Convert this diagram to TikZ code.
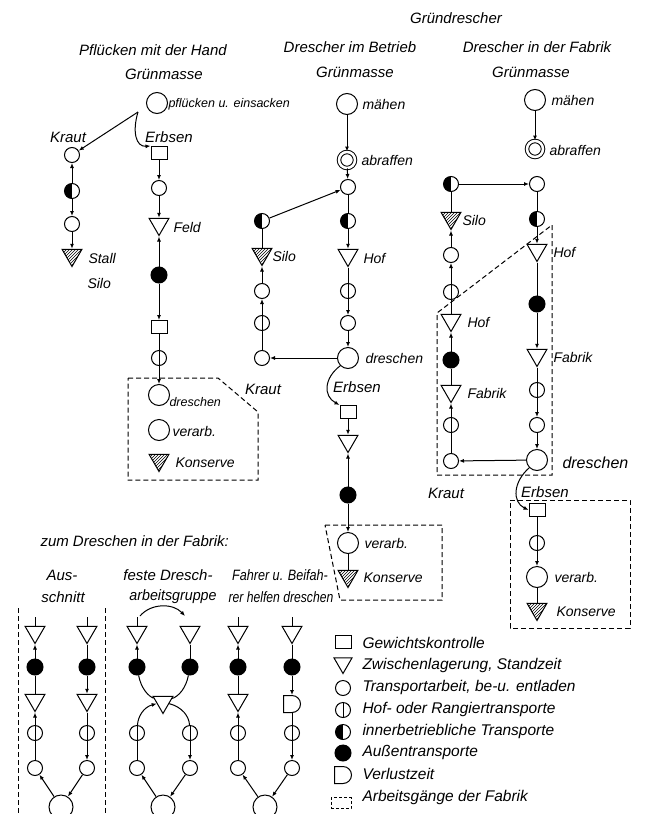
\documentclass[tikz,border=0pt]{standalone}
\usepackage{fontspec}
\usepackage{graphicx}
\setmainfont{Liberation Sans}
\usetikzlibrary{arrows.meta,shapes.geometric,shapes.misc,patterns}
\begin{document}
\begin{tikzpicture}[x=1pt,y=-1pt, line width=1pt, >={Latex[length=5pt,width=4pt]},
 sc/.style={circle,draw,minimum size=15pt,inner sep=0pt},
 bc/.style={circle,draw,minimum size=21pt,inner sep=0pt},
 dc/.style={circle,draw,double,double distance=2.5pt,minimum size=16pt,inner sep=0pt},
 hc/.style={sc,path picture={\fill (path picture bounding box.south west) rectangle (path picture bounding box.north);}},
 barc/.style={sc,path picture={\draw (path picture bounding box.north) -- (path picture bounding box.south);}},
 fc/.style={circle,draw,fill,minimum size=16pt,inner sep=0pt},
 tri/.style={regular polygon,regular polygon sides=3,shape border rotate=180,draw,minimum size=23pt,inner sep=0pt},
 htri/.style={tri,pattern=north east lines},
 sq/.style={rectangle,draw,minimum width=16pt,minimum height=13pt,inner sep=0pt},
 dsh/.style={rounded rectangle,rounded rectangle left arc=none,draw,minimum width=14pt,minimum height=17pt,inner sep=0pt},
 lab/.style={font=\fontsize{14}{16}\selectfont\itshape,inner sep=0pt,anchor=west},
 slab/.style={font=\fontsize{12.5}{14}\selectfont\itshape,inner sep=0pt,anchor=west},
 leg/.style={font=\fontsize{15.5}{17}\selectfont\itshape,inner sep=0pt,anchor=west},
 ttl/.style={font=\fontsize{15}{17}\selectfont\itshape,inner sep=0pt},
 box/.style={dash pattern=on 5pt off 3pt}
]
\fill[white] (0,0) rectangle (646,814);
\useasboundingbox (0,0) rectangle (646,814);

% titles
\node[ttl] (t0) at (456,18) {Gründrescher};
\node[ttl] (t1) at (153,50) {Pflücken mit der Hand};
\node[ttl] (t1b) at (164,74) {Grünmasse};
\node[ttl] (t2) at (350,47) {Drescher im Betrieb};
\node[ttl] (t2b) at (355,72) {Grünmasse};
\node[ttl] (t3) at (537,47) {Drescher in der Fabrik};
\node[ttl] (t3b) at (531,72) {Grünmasse};

% ---------------- Column A
\node[bc] (A0) at (157,103) {};
\node[slab] (A0l) at (168,104) {pflücken u. einsacken};
\coordinate (As) at (138,112);
\node[ttl] (Ak) at (68,137) {Kraut};
\node[ttl] (Ae) at (169,137) {Erbsen};
\node[sc] (K1) at (72,155) {};
\node[hc] (K2) at (72,191) {};
\node[sc] (K3) at (72,224) {};
\node[htri] (K4) at (72,255) {};
\node[lab] (K4l) at (88,258) {Stall};
\node[lab] (K4m) at (87,283) {Silo};
\node[sq] (E1) at (159,153) {};
\node[sc] (E2) at (159,188) {};
\node[tri] (E3) at (159,224) {};
\node[lab] (E3l) at (173,227) {Feld};
\node[fc] (E4) at (159,275) {};
\node[sq] (E5) at (159,327) {};
\node[barc] (E6) at (159,358) {};
\node[bc] (E7) at (159,395) {};
\node[slab] (E7l) at (169,402) {dreschen};
\node[bc] (E8) at (159,430) {};
\node[lab] (E8l) at (172,431) {verarb.};
\node[htri] (E9) at (159,460) {};
\node[lab] (E9l) at (175,463) {Konserve};
\draw[->] (As) -- (K1);
\draw[->] (As) .. controls (132,132) and (136,147) .. (E1.north west);
\draw[->] (K2) -- (K1);
\draw[->] (K2) -- (K3);
\draw[->] (K3) -- (K4);
\draw[->] (E1) -- (E2);
\draw[->] (E2) -- (E3);
\draw[->] (E4) -- (E3);
\draw[->] (E4) -- (E5);
\draw (E5) -- (E6);
\draw[->] (E6) -- (E7);
\draw[box] (128,378) -- (218,378) -- (258,412) -- (258,480) -- (128,480) -- cycle;

% ---------------- Column B
\node[bc] (B0) at (347,104) {};
\node[lab] (B0l) at (362,104) {mähen};
\node[dc] (B1) at (347,160) {};
\node[lab] (B1l) at (361,160) {abraffen};
\node[sc] (B2) at (348,187) {};
\node[hc] (B3) at (348,221) {};
\node[tri] (B4) at (348,255) {};
\node[lab] (B4l) at (363,258) {Hof};
\node[barc] (B5) at (348,291) {};
\node[sc] (B6) at (348,323) {};
\node[bc] (B7) at (348,358) {};
\node[lab] (B7l) at (365,358) {dreschen};
\node[ttl] (Bk) at (263,389) {Kraut};
\node[ttl] (Be) at (357,387) {Erbsen};
\node[sq] (B8) at (348,412) {};
\node[tri] (B9) at (348,441) {};
\node[fc] (B10) at (348,495) {};
\node[bc] (B11) at (348,543) {};
\node[lab] (B11l) at (364,543) {verarb.};
\node[htri] (B12) at (348,576) {};
\node[lab] (B12l) at (363,578) {Konserve};
\node[hc] (L1) at (262,221) {};
\node[htri] (L2) at (262,254) {};
\node[lab] (L2l) at (272,256) {Silo};
\node[sc] (L3) at (262,291) {};
\node[barc] (L4) at (262,323) {};
\node[sc] (L5) at (262,358) {};
\draw[->] (B0) -- (B1);
\draw[->] (B1) -- (B2);
\draw (B2) -- (B3);
\draw[->] (B3) -- (B4);
\draw (B4) -- (B5);
\draw[->] (B5) -- (B6);
\draw[->] (B6) -- (B7);
\draw[->] (B7) -- (L5);
\draw (L5) -- (L4);
\draw[->] (L4) -- (L3);
\draw[->] (L3) -- (L2);
\draw (L2) -- (L1);
\draw[->] (L1) -- (B2);
\draw[->] (B7.south west) .. controls (324,378) and (323,396) .. (B8.north west);
\draw[->] (B8) -- (B9);
\draw[->] (B10) -- (B9);
\draw[->] (B10) -- (B11);
\draw (B11) -- (B12);
\draw[box] (325,525) -- (442,525) -- (442,600) -- (340,600) -- cycle;

% ---------------- Column C
\node[bc] (C0) at (535,100) {};
\node[lab] (C0l) at (551,100) {mähen};
\node[dc] (C1) at (535,149) {};
\node[lab] (C1l) at (549,150) {abraffen};
\node[sc] (C2) at (537,184) {};
\node[hc] (C3) at (537,219) {};
\node[tri] (C4) at (537,250) {};
\node[lab] (C4l) at (553,252) {Hof};
\node[fc] (C5) at (537,304) {};
\node[tri] (C6) at (537,355) {};
\node[lab] (C6l) at (553,357) {Fabrik};
\node[barc] (C7) at (537,390) {};
\node[sc] (C8) at (537,425) {};
\node[bc] (C9) at (537,460) {};
\node[lab, font=\fontsize{16}{18}\selectfont\itshape] (C9l) at (562,463) {dreschen};
\node[hc] (M1) at (451,184) {};
\node[htri] (M2) at (451,218) {};
\node[lab] (M2l) at (462,220) {Silo};
\node[sc] (M3) at (451,255) {};
\node[barc] (M4) at (451,292) {};
\node[tri] (M5) at (451,320) {};
\node[lab] (M5l) at (467,322) {Hof};
\node[fc] (M6) at (451,360) {};
\node[tri] (M7) at (451,391) {};
\node[lab] (M7l) at (467,393) {Fabrik};
\node[barc] (M8) at (451,425) {};
\node[sc] (M9) at (451,461) {};
\node[ttl] (Ck) at (446,493) {Kraut};
\node[ttl] (Ce) at (545,492) {Erbsen};
\node[sq] (C10) at (537,510) {};
\node[barc] (C11) at (537,543) {};
\node[bc] (C12) at (537,577) {};
\node[lab] (C12l) at (554,577) {verarb.};
\node[htri] (C13) at (537,609) {};
\node[lab] (C13l) at (556,612) {Konserve};
\draw[->] (C0) -- (C1);
\draw[->] (M1) -- (C2);
\draw (C2) -- (C3);
\draw[->] (C3) -- (C4);
\draw (C4) -- (C5);
\draw[->] (C5) -- (C6);
\draw (C6) -- (C7);
\draw[->] (C7) -- (C8);
\draw[->] (C8) -- (C9);
\draw[->] (C9) -- (M9);
\draw (M9) -- (M8);
\draw[->] (M8) -- (M7);
\draw (M7) -- (M6);
\draw[->] (M6) -- (M5);
\draw (M5) -- (M4);
\draw[->] (M4) -- (M3);
\draw[->] (M3) -- (M2);
\draw (M2) -- (M1);
\draw[->] (C9.south west) .. controls (513,482) and (512,502) .. (C10.west);
\draw (C10) -- (C11);
\draw[->] (C11) -- (C12);
\draw (C12) -- (C13);
\draw[box] (552,225) -- (552,475) -- (437,475) -- (437,313) -- cycle;
\draw[box] (510,500) -- (630,500) -- (630,628) -- (510,628) -- cycle;

% ---------------- bottom section
\node[ttl, anchor=west] (zt) at (40,541) {zum Dreschen in der Fabrik:};
\node[ttl] (h1a) at (62,575) {Aus-};
\node[ttl] (h1b) at (63,597) {schnitt};
\node[ttl] (h2a) at (168,575) {feste Dresch-};
\node[ttl] (h2b) at (173,597) {\scalebox{0.95}[1]{arbeitsgruppe}};
\node[ttl] (h3a) at (280,575) {\scalebox{0.84}[1]{Fahrer u. Beifah-}};
\node[ttl] (h3b) at (281,597) {\scalebox{0.81}[1]{rer helfen dreschen}};

% group 1
\coordinate (p1) at (35,617); \coordinate (p2) at (87,617);
\node[tri] (a1) at (35,632) {};
\node[fc] (a2) at (35,667) {};
\node[tri] (a3) at (35,700) {};
\node[barc] (a4) at (35,733) {};
\node[sc] (a5) at (35,768) {};
\node[tri] (b1) at (87,632) {};
\node[fc] (b2) at (87,667) {};
\node[tri] (b3) at (87,700) {};
\node[barc] (b4) at (87,733) {};
\node[sc] (b5) at (87,768) {};
\node[bc, minimum size=24pt] (ab) at (61,807) {};
\draw (p1) -- (a1); \draw[->] (a2) -- (a1); \draw (a2) -- (a3);
\draw[->] (a4) -- (a3); \draw (a5) -- (a4); \draw[->] (ab) -- (a5);
\draw (p2) -- (b1); \draw (b1) -- (b2); \draw[->] (b2) -- (b3);
\draw (b3) -- (b4); \draw[->] (b4) -- (b5); \draw[->] (b5) -- (ab);
\coordinate (v1a) at (18,608); \coordinate (v1b) at (18,814);
\coordinate (v2a) at (105,608); \coordinate (v2b) at (105,814);
\draw[box] (v1a) -- (v1b);
\draw[box] (v2a) -- (v2b);

% group 2
\coordinate (p3) at (137,617); \coordinate (p4) at (190,617);
\coordinate (p3s) at (140,616); \coordinate (p4e) at (185,616);
\node[tri] (c1) at (137,632) {};
\node[fc] (c2) at (137,667) {};
\node[barc] (c4) at (137,733) {};
\node[sc] (c5) at (137,768) {};
\node[tri] (d1) at (190,632) {};
\node[fc] (d2) at (190,667) {};
\node[barc] (d4) at (190,733) {};
\node[sc] (d5) at (190,768) {};
\node[tri] (cd) at (163,702) {};
\node[bc, minimum size=24pt] (cg) at (163,807) {};
\draw[->] (p3s) .. controls (151,603) and (173,603) .. (p4e);
\draw (p3) -- (c1); \draw[->] (c2) -- (c1);
\draw (c2) .. controls (141,688) and (148,696) .. (cd);
\draw (d1) -- (d2);
\draw (d2) .. controls (186,688) and (179,696) .. (cd);
\draw[->] (c4) .. controls (138,716) and (144,707) .. (cd);
\draw (cd) .. controls (182,707) and (189,716) .. (d4);
\draw (c5) -- (c4); \draw[->] (d4) -- (d5);
\draw[->] (cg) -- (c5); \draw[->] (d5) -- (cg);

% group 3
\coordinate (p5) at (238,617); \coordinate (p6) at (292,617);
\node[tri] (e1) at (238,632) {};
\node[fc] (e2) at (238,667) {};
\node[tri] (e3) at (238,700) {};
\node[barc] (e4) at (238,733) {};
\node[sc] (e5) at (238,768) {};
\node[tri] (f1) at (292,632) {};
\node[fc] (f2) at (292,667) {};
\node[dsh] (f3) at (292,704) {};
\node[barc] (f4) at (292,733) {};
\node[sc] (f5) at (292,768) {};
\node[bc, minimum size=24pt] (eg) at (265,807) {};
\draw (p5) -- (e1); \draw[->] (e2) -- (e1); \draw (e2) -- (e3);
\draw[->] (e4) -- (e3); \draw (e5) -- (e4); \draw[->] (eg) -- (e5);
\draw (p6) -- (f1); \draw (f1) -- (f2); \draw[->] (f2) -- (f3);
\draw (f3) -- (f4); \draw[->] (f4) -- (f5); \draw[->] (f5) -- (eg);

% legend
\node[sq] (g1) at (343,642) {};
\node[leg] (g1t) at (362,643) {Gewichtskontrolle};
\node[tri, minimum size=21pt] (g2) at (343,663) {};
\node[leg] (g2t) at (362,665) {Zwischenlagerung, Standzeit};
\node[sc] (g3) at (343,688) {};
\node[leg] (g3t) at (362,687) {Transportarbeit, be-u. entladen};
\node[barc] (g4) at (343,710) {};
\node[leg] (g4t) at (362,709) {Hof- oder Rangiertransporte};
\node[hc] (g5) at (343,732) {};
\node[leg] (g5t) at (362,731) {innerbetriebliche Transporte};
\node[fc] (g6) at (343,753) {};
\node[leg] (g6t) at (362,752) {Außentransporte};
\node[dsh] (g7) at (343,775) {};
\node[leg] (g7t) at (362,774) {Verlustzeit};
\node[draw, dash pattern=on 3pt off 2pt, minimum width=20pt, minimum height=11pt, inner sep=0pt] (g8) at (341,803) {};
\node[leg] (g8t) at (362,797) {Arbeitsgänge der Fabrik};
\end{tikzpicture}
\end{document}
